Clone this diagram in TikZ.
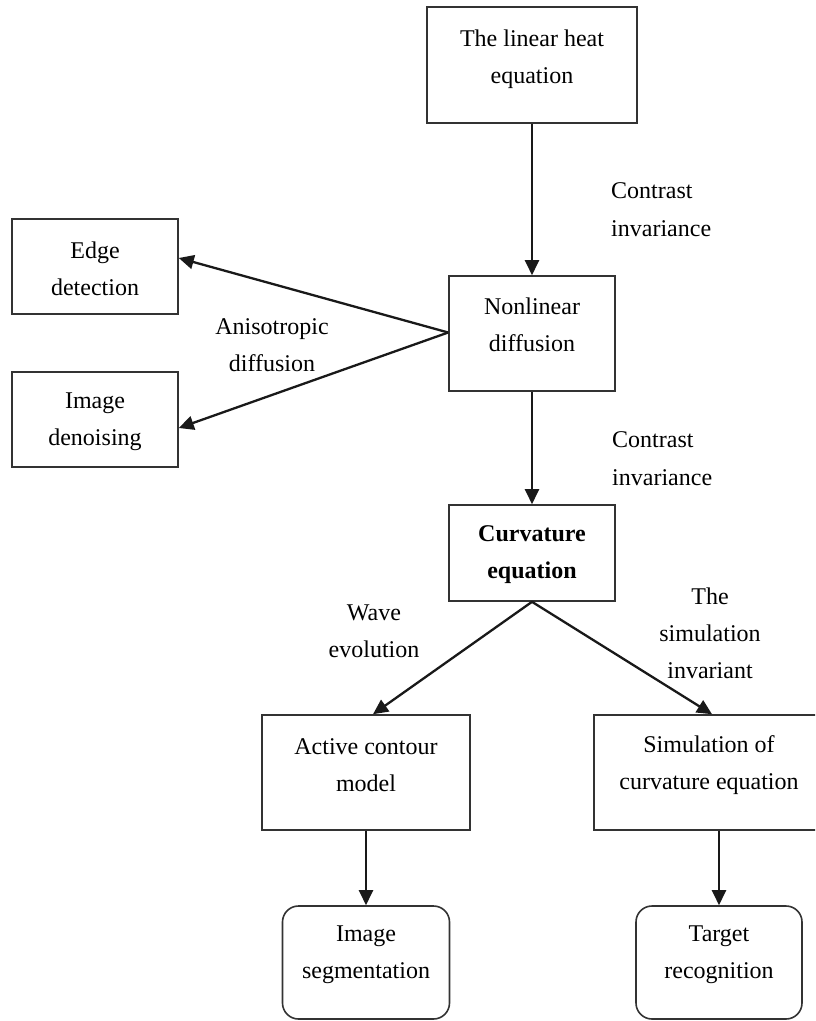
\documentclass[tikz,border=0pt]{standalone}
\usepackage{fontspec}
\setmainfont{Liberation Serif}
\usetikzlibrary{arrows.meta}
\begin{document}
\begin{tikzpicture}[x=1pt,y=-1pt,
  box/.style={draw=black!80, line width=1.6pt, inner sep=0pt},
  rbox/.style={box, rounded corners=16pt},
  txt/.style={font=\fontsize{24}{37}\selectfont, align=center, inner sep=0pt},
  lbl/.style={font=\fontsize{24}{38}\selectfont, align=left, inner sep=0pt, anchor=west},
  arr/.style={line width=2.3pt, draw=black!90, -{Triangle[length=15pt,width=14pt]}}]
\useasboundingbox (0,0) rectangle (815,1021);
\clip (0,0) rectangle (815,1021);

% boxes
\node[box, minimum width=210pt, minimum height=116pt] (heat) at (532,65) {};
\node[txt] (heatT) at (532,59.5) {The linear heat\\equation};

\node[box, minimum width=166pt, minimum height=115pt] (nonlin) at (532,333.5) {};
\node[txt] (nonlinT) at (532,325) {Nonlinear\\diffusion};

\node[box, minimum width=166pt, minimum height=95pt] (edge) at (95,266.5) {};
\node[txt] (edgeT) at (95,268.5) {Edge\\detection};

\node[box, minimum width=166pt, minimum height=95pt] (denoise) at (95,419.5) {};
\node[txt] (denoiseT) at (95,421.5) {Image\\denoising};

\node[box, minimum width=166pt, minimum height=96pt] (curv) at (532,553) {};
\node[txt, font=\fontsize{24}{37}\selectfont\bfseries] (curvT) at (532,555) {Curvature\\equation};

\node[box, minimum width=208pt, minimum height=115pt] (active) at (366,772.5) {};
\node[txt] (activeT) at (366,765.5) {Active contour\\model};

\node[box, minimum width=250pt, minimum height=115pt] (sim) at (719,772.5) {};
\node[txt] (simT) at (709,765.5) {Simulation of\\curvature equation};

\node[rbox, minimum width=167pt, minimum height=113pt] (seg) at (366,962.5) {};
\node[txt] (segT) at (366,955) {Image\\segmentation};

\node[rbox, minimum width=166pt, minimum height=113pt] (target) at (719,962.5) {};
\node[txt] (targetT) at (719,955) {Target\\recognition};

% labels
\node[lbl] (ci1) at (611,209.5) {Contrast\\invariance};
\node[lbl] (ci2) at (612,459) {Contrast\\invariance};
\node[txt] (aniso) at (272,345) {Anisotropic\\diffusion};
\node[txt] (wave) at (374,631.5) {Wave\\evolution};
\node[txt] (simInv) at (710,633) {The\\simulation\\invariant};

% connectors
\draw[arr] (heat.south) -- (nonlin.north);
\draw[arr] ([yshift=1pt]nonlin.west) -- ([yshift=8.5pt]edge.east);
\draw[arr] ([yshift=1pt]nonlin.west) -- ([yshift=-8.5pt]denoise.east);
\draw[arr] (nonlin.south) -- (curv.north);
\draw[arr] (curv.south) -- ([xshift=7pt]active.north);
\draw[arr] (curv.south) -- ([xshift=-7pt]sim.north);
\draw[arr] (active.south) -- (seg.north);
\draw[arr] (sim.south) -- (target.north);
\end{tikzpicture}
\end{document}
